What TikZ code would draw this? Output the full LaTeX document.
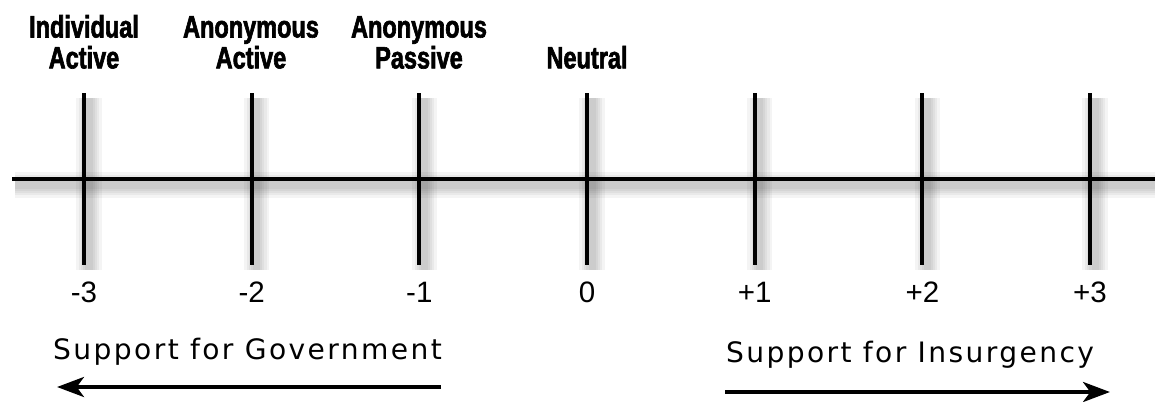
\documentclass[tikz,border=0pt]{standalone}
\usepackage{fontspec}
\setmainfont{Liberation Sans}
\newfontfamily\posfont[FakeStretch=0.76,FakeBold=2]{Liberation Sans}
\newfontfamily\sidefont[LetterSpace=8.5]{DejaVu Sans}
\usetikzlibrary{arrows.meta, positioning}
\tikzset{
  axisline/.style={line width=3pt, line cap=butt},
  shadowline/.style={line width=#1, black, opacity=0.045},
  poslabel/.style={font=\posfont\bfseries\fontsize{22}{22}\selectfont, align=center, anchor=south, inner sep=0pt},
  numlabel/.style={font=\fontsize{21}{24}\selectfont, anchor=base, inner sep=0pt},
  sidelabel/.style={font=\sidefont\fontsize{20}{24}\selectfont, anchor=base, inner sep=0pt},
  sidearrow/.style={line width=3.5pt, -{Stealth[length=19pt, width=14pt, inset=5pt]}}
}
\begin{document}
\begin{tikzpicture}[x=0.025cm, y=-0.025cm]
  \useasboundingbox (0,0) rectangle (1155,401);

  % axis and tick points
  \coordinate (axisL) at (12,179);
  \coordinate (axisR) at (1155,179);
  \foreach \k in {1,...,7} {
    \coordinate (top\k) at ({84+167.67*(\k-1)},93);
    \coordinate (bot\k) at ({84+167.67*(\k-1)},265);
  }

  % soft shadow
  \foreach \w in {18pt,14pt,11pt,8pt,5pt} {
    \draw[shadowline=\w] ([shift={(3,6)}]axisL) -- ([shift={(3,6)}]axisR);
    \foreach \k in {1,...,7}
      \draw[shadowline=\w] ([shift={(5,5)}]top\k) -- ([shift={(5,5)}]bot\k);
  }

  % axis
  \draw[axisline] (axisL) -- (axisR);
  \foreach \k in {1,...,7}
    \draw[axisline] (top\k) -- (bot\k);

  % positions
  \node[poslabel] (indact) at (84,69) {Individual\\Active};
  \node[poslabel] (anonact) at (251,69) {Anonymous\\Active};
  \node[poslabel] (anonpas) at (419,69) {Anonymous\\Passive};
  \node[poslabel] (neutral) at (587,69) {Neutral};

  % scale numbers
  \foreach \k/\v in {1/-3,2/-2,3/-1,4/0,5/+1,6/+2,7/+3}
    \node[numlabel] (num\k) at ({84+167.67*(\k-1)},302) {\v};

  % support arrows
  \node[sidelabel] (govlbl) at (247.5,359) {Support for Government};
  \node[sidelabel] (inslbl) at (910,362) {Support for Insurgency};
  \coordinate (govtail) at (441,387);
  \coordinate (govtip) at (57,387);
  \coordinate (instail) at (725,392);
  \coordinate (instip) at (1110,392);
  \draw[sidearrow] (govtail) -- (govtip);
  \draw[sidearrow] (instail) -- (instip);
\end{tikzpicture}
\end{document}
